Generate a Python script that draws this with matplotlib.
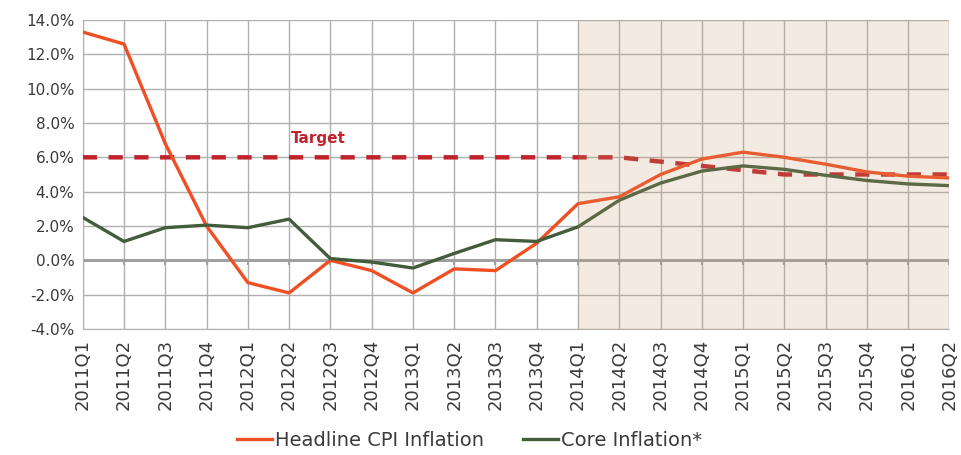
import numpy as np
import matplotlib.pyplot as plt

# quarters shown on the x axis
quarters = ["2011Q1", "2011Q2", "2011Q3", "2011Q4",
            "2012Q1", "2012Q2", "2012Q3", "2012Q4",
            "2013Q1", "2013Q2", "2013Q3", "2013Q4",
            "2014Q1", "2014Q2", "2014Q3", "2014Q4",
            "2015Q1", "2015Q2", "2015Q3", "2015Q4",
            "2016Q1", "2016Q2"]

# values in percent
headline = [13.3, 12.6, 6.8, 2.0, -1.3, -1.9, 0.0, -0.6, -1.9, -0.5, -0.6, 1.0,
            3.3, 3.7, 5.0, 5.9, 6.3, 6.0, 5.6, 5.15, 4.9, 4.8]
core = [2.5, 1.1, 1.9, 2.05, 1.9, 2.4, 0.1, -0.1, -0.45, 0.4, 1.2, 1.1,
        1.95, 3.5, 4.5, 5.2, 5.5, 5.3, 4.95, 4.65, 4.45, 4.35]
target = [6.0, 6.0, 6.0, 6.0, 6.0, 6.0, 6.0, 6.0, 6.0, 6.0, 6.0, 6.0,
          6.0, 6.0, 5.75, 5.5, 5.25, 5.0, 5.0, 5.0, 5.0, 5.0]
forecast_start = "2014Q1"

GRID = "#B0B0B0"
TXT = "#3A3A3A"

fig = plt.figure(figsize=(9.62, 4.55), dpi=100)
ax = fig.add_axes([0.086, 0.277, 0.901, 0.679])

x = np.arange(len(quarters))
ax.plot(x, target, color="#C0232B", lw=3.2, ls=(0, (3.2, 2.6)), zorder=3)
ax.plot(x, headline, color="#F04E23", lw=2.4, zorder=4, label="Headline CPI Inflation")
ax.plot(x, core, color="#435C3C", lw=2.4, zorder=4, label="Core Inflation*")

# shaded forecast region drawn on top so lines look lighter inside it
fs = quarters.index(forecast_start)
ax.axvspan(fs, x[-1], color=(0.78, 0.62, 0.43), alpha=0.2, lw=0, zorder=6)

ax.set_xlim(x[0], x[-1])
ax.set_ylim(-4, 14)
ax.set_yticks(np.arange(-4, 15, 2))
ax.set_yticklabels([f"{v:.1f}%" for v in np.arange(-4, 15, 2)])
ax.set_xticks(x)
ax.set_xticklabels(quarters, rotation=90)

ax.grid(True, color=GRID, lw=1.0, zorder=0)
ax.set_axisbelow(True)
ax.axhline(0, color="#A0A0A0", lw=2.2, zorder=2)
ax.vlines(x, -0.25, 0, color="#A0A0A0", lw=1.5, zorder=2)

for s in ["top", "right"]:
    ax.spines[s].set_visible(False)
for s in ["left", "bottom"]:
    ax.spines[s].set_color(GRID)
ax.tick_params(axis="both", length=0, colors=TXT)
ax.tick_params(axis="y", labelsize=11, pad=6)
ax.tick_params(axis="x", labelsize=13, pad=7)

ax.text(5.05, 7.1, "Target", color="#C0232B", fontsize=11, fontweight="bold",
        va="center", ha="left")

fig.legend(loc="lower center", bbox_to_anchor=(0.488, -0.028), ncol=2, frameon=False,
           fontsize=14, handlelength=1.8, handletextpad=0.15, columnspacing=2.0,
           labelcolor=TXT)

fig.savefig("out.png", dpi=100)
